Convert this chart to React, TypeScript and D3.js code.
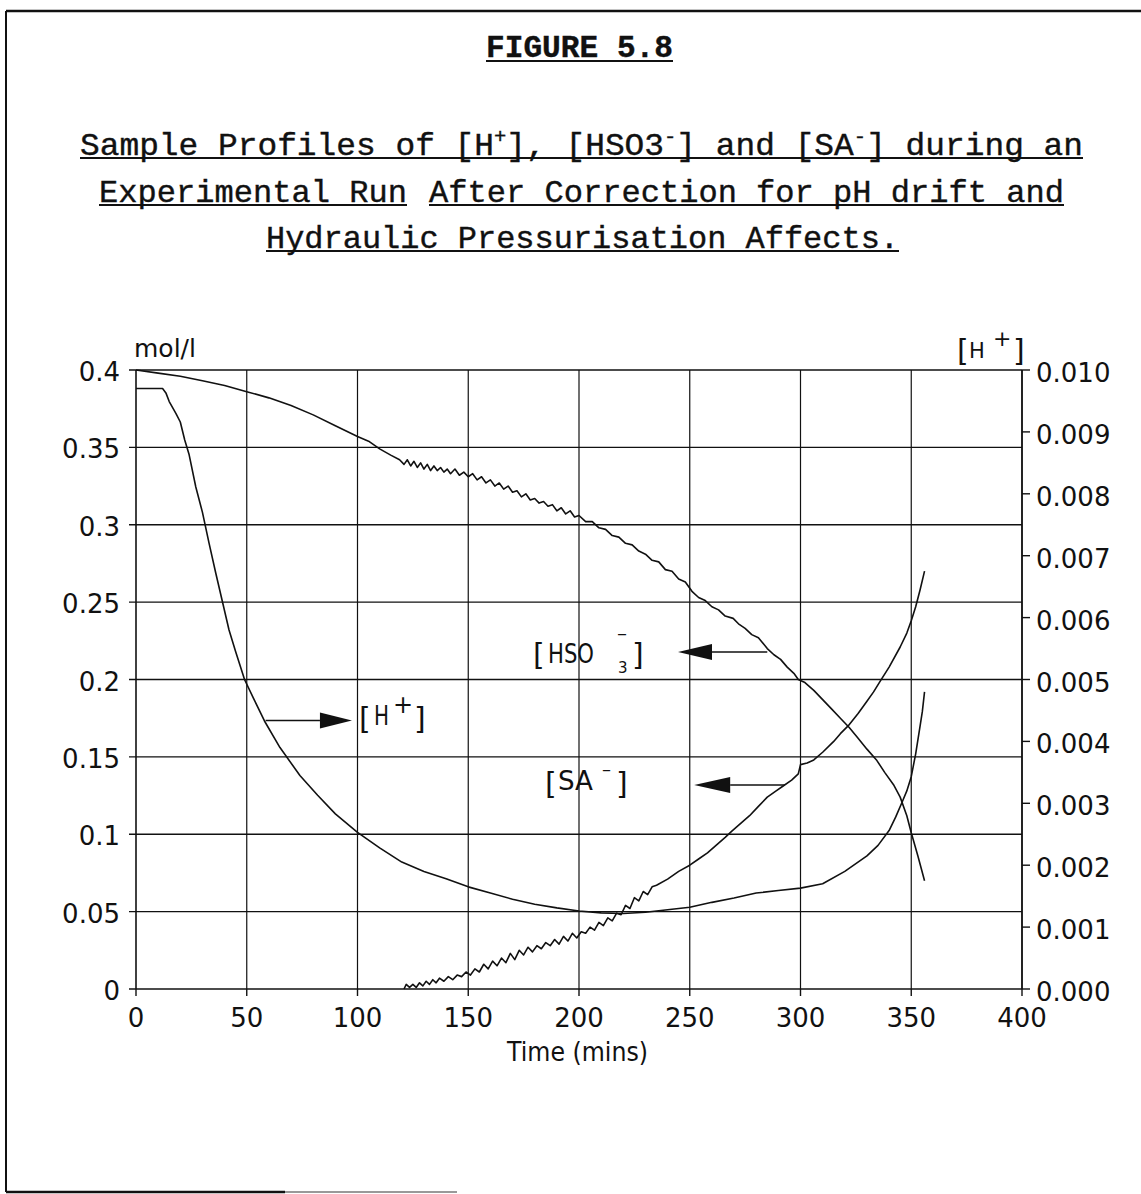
import React from 'react';
import * as d3 from 'd3';

const W = 1141;
const H = 1194;

// Axis ticks
const timeTicks = [0, 50, 100, 150, 200, 250, 300, 350, 400];
const concTicks = [0, 0.05, 0.1, 0.15, 0.2, 0.25, 0.3, 0.35, 0.4];
const concTickLabels = ['0', '0.05', '0.1', '0.15', '0.2', '0.25', '0.3', '0.35', '0.4'];
const hTicks = [0, 0.001, 0.002, 0.003, 0.004, 0.005, 0.006, 0.007, 0.008, 0.009, 0.01];
const hTickLabels = ['0.000', '0.001', '0.002', '0.003', '0.004', '0.005', '0.006', '0.007', '0.008', '0.009', '0.010'];

// [HSO3-] (mol/l, left axis)
const hso3Time = [0, 10, 20, 30, 40, 50, 60, 70, 80, 90, 100, 105, 110, 115, 119, 121, 122.5, 124, 125.5, 127, 128.5, 130, 131.5, 133, 134.5, 136, 137.5, 139, 140.5, 142, 144, 146, 148, 150, 152, 154, 156, 158, 160, 162, 164, 166, 168, 170, 172, 174, 176, 178, 180, 182, 184, 186, 188, 190, 192, 194, 196, 198, 200, 203, 206, 209, 212, 215, 218, 221, 224, 227, 230, 233, 236, 239, 242, 245, 248, 251, 254, 257, 260, 263, 266, 269.6, 272, 275, 278, 281, 285, 288, 291, 294, 297, 299, 302, 306, 310, 314, 318, 322, 326, 330, 334.5, 338, 342, 345, 348, 350, 353, 356];
const hso3Conc = [0.4, 0.398, 0.396, 0.393, 0.39, 0.386, 0.382, 0.377, 0.371, 0.364, 0.357, 0.354, 0.349, 0.345, 0.342, 0.339, 0.342, 0.338, 0.341, 0.337, 0.34, 0.336, 0.339, 0.335, 0.338, 0.335, 0.337, 0.334, 0.336, 0.333, 0.336, 0.332, 0.334, 0.331, 0.333, 0.329, 0.331, 0.327, 0.329, 0.325, 0.327, 0.323, 0.325, 0.321, 0.322, 0.318, 0.32, 0.316, 0.317, 0.314, 0.315, 0.312, 0.313, 0.309, 0.311, 0.307, 0.309, 0.305, 0.306, 0.302, 0.302, 0.298, 0.297, 0.293, 0.292, 0.288, 0.287, 0.283, 0.281, 0.277, 0.276, 0.271, 0.27, 0.265, 0.263, 0.257, 0.253, 0.251, 0.247, 0.245, 0.241, 0.2395, 0.236, 0.233, 0.229, 0.227, 0.22, 0.216, 0.213, 0.208, 0.204, 0.2, 0.198, 0.193, 0.187, 0.181, 0.175, 0.169, 0.162, 0.155, 0.1476, 0.14, 0.132, 0.124, 0.112, 0.101, 0.086, 0.07];

// [SA-] (mol/l, left axis)
const saTime = [121, 122, 123.5, 125, 126.5, 128, 129.5, 131, 132.5, 134, 135.5, 137, 139, 141, 143, 145, 147, 149, 151, 153, 155, 157, 159, 161, 163, 165, 167, 169, 171, 173, 175, 177, 179, 181, 183, 185, 187, 189, 191, 193, 195, 197, 199, 201, 203, 205, 207, 209, 211, 213, 215, 217, 219, 221, 223, 225, 227, 229, 231, 233, 235, 240, 245, 250, 254, 258, 262, 266, 269, 273, 277, 281, 285, 289, 292, 296, 299, 300, 303, 306, 310, 315, 318, 321.5, 326, 330, 333, 336, 340, 345, 348, 350, 352, 354, 356];
const saConc = [0, 0.003, 0.001, 0.003, 0.001, 0.004, 0.002, 0.005, 0.003, 0.006, 0.004, 0.007, 0.005, 0.008, 0.006, 0.009, 0.008, 0.011, 0.009, 0.013, 0.011, 0.016, 0.013, 0.018, 0.015, 0.02, 0.017, 0.023, 0.019, 0.025, 0.022, 0.027, 0.024, 0.028, 0.026, 0.03, 0.028, 0.032, 0.029, 0.034, 0.031, 0.036, 0.033, 0.037, 0.036, 0.04, 0.038, 0.043, 0.041, 0.046, 0.044, 0.049, 0.048, 0.054, 0.052, 0.059, 0.057, 0.063, 0.061, 0.066, 0.067, 0.071, 0.076, 0.08, 0.084, 0.088, 0.093, 0.098, 0.102, 0.107, 0.112, 0.118, 0.124, 0.128, 0.131, 0.135, 0.139, 0.145, 0.146, 0.148, 0.153, 0.16, 0.165, 0.17, 0.178, 0.186, 0.192, 0.199, 0.208, 0.221, 0.23, 0.238, 0.247, 0.258, 0.27];

// [H+] (right axis)
const hTime = [0, 12, 13.5, 15, 18, 20, 22, 24, 27, 30, 33, 36, 42, 45, 49, 53, 58, 65, 74, 82, 90, 100, 110, 120, 130, 140, 150, 160, 170, 180, 190, 200, 210, 220, 230, 240, 250, 260, 270, 280, 290, 300, 310, 320, 330, 335, 340, 343, 346, 348, 350, 352, 354, 355, 356];
const hConc = [0.0097, 0.0097, 0.00963, 0.00949, 0.0093, 0.00916, 0.00887, 0.00863, 0.00811, 0.0077, 0.0072, 0.00672, 0.0058, 0.00545, 0.005, 0.0047, 0.00433, 0.0039, 0.00345, 0.00313, 0.00283, 0.00253, 0.00228, 0.00205, 0.0019, 0.00178, 0.00165, 0.00155, 0.00145, 0.00137, 0.00131, 0.00126, 0.00123, 0.00122, 0.00124, 0.00128, 0.00132, 0.0014, 0.00147, 0.00155, 0.00159, 0.00163, 0.0017, 0.0019, 0.00215, 0.00232, 0.00256, 0.00278, 0.00303, 0.0032, 0.00343, 0.0038, 0.00425, 0.00448, 0.0048];

const MONO = '"Liberation Mono", "Courier New", monospace';
const SANS = '"DejaVu Sans", sans-serif';

function zip(a: number[], b: number[]): [number, number][] {
  return a.map((v, i) => [v, b[i]]);
}

export default function App() {
  const x = d3.scaleLinear().domain([0, 400]).range([136, 1022]);
  const yL = d3.scaleLinear().domain([0, 0.4]).range([989, 370]);
  const yR = d3.scaleLinear().domain([0, 0.01]).range([989, 370]);

  const lineL = d3.line<[number, number]>().x(d => x(d[0])).y(d => yL(d[1]));
  const lineR = d3.line<[number, number]>().x(d => x(d[0])).y(d => yR(d[1]));

  const stroke = '#111';

  // pointer: shaft from t1 to the tip at t2, at level v (left axis units)
  const arrow = (t1: number, t2: number, v: number, headLen: number, key: string) => {
    const x1 = x(t1), x2 = x(t2), yy = yL(v);
    const dir = x2 > x1 ? 1 : -1;
    const hb = x2 - dir * headLen;
    return (
      <g key={key}>
        <line x1={x1} y1={yy} x2={hb} y2={yy} stroke={stroke} strokeWidth={1.6} />
        <polygon points={`${x2},${yy} ${hb},${yy - 8} ${hb},${yy + 8}`} fill={stroke} />
      </g>
    );
  };

  return (
    <svg width={W} height={H} style={{ position: 'absolute', left: 0, top: 0, background: '#fff' }}>
      <rect x={0} y={0} width={W} height={H} fill="#fff" />
      {/* page frame */}
      <line x1={6} y1={11} x2={W} y2={11} stroke={stroke} strokeWidth={2.5} />
      <line x1={6} y1={11} x2={6} y2={1192} stroke={stroke} strokeWidth={2} />
      <line x1={6} y1={1192} x2={285} y2={1192} stroke={stroke} strokeWidth={2.5} />
      <line x1={285} y1={1192} x2={457} y2={1192} stroke="#999" strokeWidth={2} />

      {/* headings */}
      <g stroke={stroke} strokeWidth={0.4}>
        <text x={486} y={57} fontFamily={MONO} fontWeight="bold" fontSize={31} textLength={187} lengthAdjust="spacingAndGlyphs" fill={stroke}>FIGURE 5.8</text>

        <text x={80} y={155} fontFamily={MONO} fontSize={32} textLength={1003} lengthAdjust="spacingAndGlyphs" fill={stroke}>
          <tspan>Sample Profiles of [H</tspan>
          <tspan dy={-12} fontSize={20}>+</tspan>
          <tspan dy={12}>], [HSO3</tspan>
          <tspan dy={-12} fontSize={20}>-</tspan>
          <tspan dy={12}>] and [SA</tspan>
          <tspan dy={-12} fontSize={20}>-</tspan>
          <tspan dy={12}>] during an</tspan>
        </text>

        <text x={99} y={202} fontFamily={MONO} fontSize={32} textLength={308} lengthAdjust="spacingAndGlyphs" fill={stroke}>Experimental Run</text>
        <text x={429} y={202} fontFamily={MONO} fontSize={32} textLength={635} lengthAdjust="spacingAndGlyphs" fill={stroke}>After Correction for pH drift and</text>
        <text x={266} y={248} fontFamily={MONO} fontSize={32} textLength={633} lengthAdjust="spacingAndGlyphs" fill={stroke}>Hydraulic Pressurisation Affects.</text>
      </g>
      <line x1={486} y1={61} x2={673} y2={61} stroke={stroke} strokeWidth={2} />
      <line x1={80} y1={158} x2={1083} y2={158} stroke={stroke} strokeWidth={2} />
      <line x1={99} y1={205} x2={407} y2={205} stroke={stroke} strokeWidth={2} />
      <line x1={429} y1={205} x2={1064} y2={205} stroke={stroke} strokeWidth={2} />
      <line x1={266} y1={251} x2={899} y2={251} stroke={stroke} strokeWidth={2} />

      {/* grid and time axis */}
      {timeTicks.map(t => (
        <g key={'vx' + t}>
          <line x1={x(t)} y1={yL(0.4)} x2={x(t)} y2={yL(0)} stroke={stroke} strokeWidth={t === 0 ? 1.6 : 1.2} />
          <line x1={x(t)} y1={yL(0)} x2={x(t)} y2={yL(0) + 7} stroke={stroke} strokeWidth={1.4} />
          <text x={x(t)} y={1027} textAnchor="middle" fontFamily={SANS} fontSize={26} fill={stroke}>{t}</text>
        </g>
      ))}
      {concTicks.map((v, i) => (
        <g key={'hy' + i}>
          <line x1={x(0) - 7} y1={yL(v)} x2={x(400)} y2={yL(v)} stroke={stroke} strokeWidth={1.4} />
          <text x={120} y={yL(v) + 11} textAnchor="end" fontFamily={SANS} fontSize={26} fill={stroke}>{concTickLabels[i]}</text>
        </g>
      ))}

      {/* right [H+] axis */}
      <line x1={x(400)} y1={yR(0.01)} x2={x(400)} y2={yR(0)} stroke={stroke} strokeWidth={1.6} />
      {hTicks.map((v, i) => (
        <g key={'ry' + i}>
          <line x1={x(400)} y1={yR(v)} x2={x(400) + 8} y2={yR(v)} stroke={stroke} strokeWidth={1.4} />
          <text x={1036} y={yR(v) + 12} fontFamily={SANS} fontSize={26} fill={stroke}>{hTickLabels[i]}</text>
        </g>
      ))}

      {/* axis titles */}
      <text x={134} y={357} fontFamily={SANS} fontSize={25} fill={stroke}>mol/l</text>
      <text x={507} y={1061} fontFamily={SANS} fontSize={26} textLength={141} lengthAdjust="spacingAndGlyphs" fill={stroke}>Time (mins)</text>
      <g fontFamily={SANS} fill={stroke}>
        <text x={957} y={361} fontSize={30}>[</text>
        <text x={969} y={358} fontSize={21}>H</text>
        <text x={993} y={346} fontSize={22}>+</text>
        <text x={1013} y={361} fontSize={30}>]</text>
      </g>

      {/* series */}
      <path d={lineL(zip(hso3Time, hso3Conc)) || ''} fill="none" stroke={stroke} strokeWidth={1.6} strokeLinejoin="round" />
      <path d={lineL(zip(saTime, saConc)) || ''} fill="none" stroke={stroke} strokeWidth={1.6} strokeLinejoin="round" />
      <path d={lineR(zip(hTime, hConc)) || ''} fill="none" stroke={stroke} strokeWidth={1.6} strokeLinejoin="round" />

      {/* series labels with pointers */}
      {arrow(58.5, 97.5, 0.1735, 32, 'ah')}
      <g fontFamily={SANS} fill={stroke}>
        <text x={359} y={729} fontSize={30}>[</text>
        <text x={374} y={725} fontSize={27} textLength={15} lengthAdjust="spacingAndGlyphs">H</text>
        <text x={393} y={713} fontSize={24}>+</text>
        <text x={414} y={729} fontSize={30}>]</text>
      </g>

      {arrow(285, 244.7, 0.2178, 34, 'ahso')}
      <g fontFamily={SANS} fill={stroke}>
        <text x={533} y={665} fontSize={30}>[</text>
        <text x={548} y={663} fontSize={27} textLength={46} lengthAdjust="spacingAndGlyphs">HSO</text>
        <text x={617} y={640} fontSize={20}>–</text>
        <text x={618} y={673} fontSize={15}>3</text>
        <text x={632} y={665} fontSize={30}>]</text>
      </g>

      {arrow(293, 252, 0.1318, 36, 'asa')}
      <g fontFamily={SANS} fill={stroke}>
        <text x={545} y={794} fontSize={30}>[</text>
        <text x={558} y={790} fontSize={27} textLength={35} lengthAdjust="spacingAndGlyphs">SA</text>
        <text x={602} y={775} fontSize={18}>–</text>
        <text x={616} y={794} fontSize={30}>]</text>
      </g>
    </svg>
  );
}
